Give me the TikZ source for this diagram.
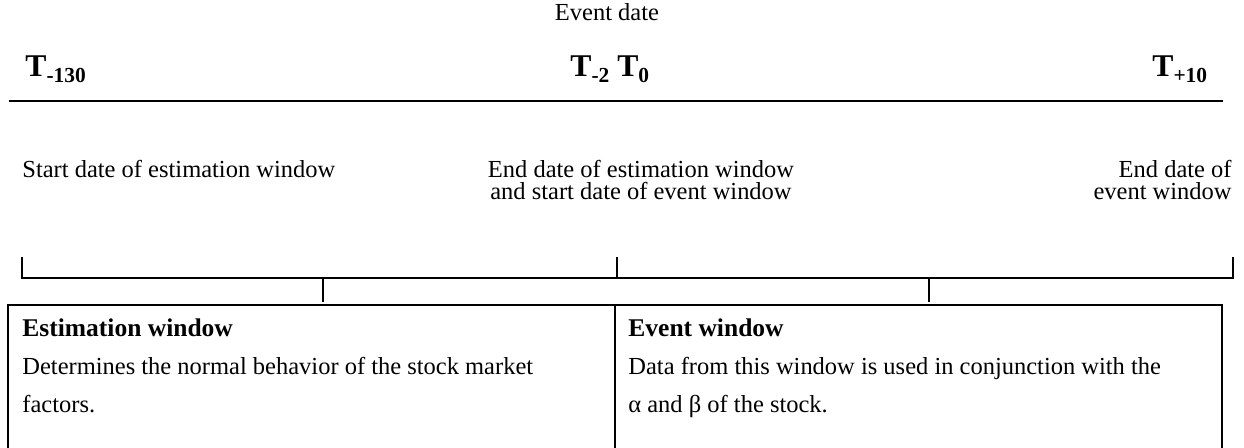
\documentclass[tikz,border=0pt]{standalone}
\usepackage{fontspec}
\setmainfont{Liberation Serif}
\newcommand{\tsub}[1]{\raisebox{-0.35ex}{\fontsize{10.5}{12}\selectfont #1}}
\tikzset{
  lbl/.style={inner sep=0pt,font=\fontsize{12}{14}\selectfont},
  ttl/.style={inner sep=0pt,font=\fontsize{12.5}{14}\selectfont\bfseries},
  tick/.style={inner sep=0pt,font=\fontsize{15.5}{18}\selectfont\bfseries},
}
\begin{document}
\begin{tikzpicture}[x=0.49pt,y=-0.49pt]
    \useasboundingbox (0,0) rectangle (1244,448);
    % time line
    \node[lbl,anchor=base] (evdate) at (607,21) {Event date};
    \node[tick,anchor=base west] (tstart) at (25,77) {T\tsub{-130}};
    \node[tick,anchor=base west] (tmid) at (570,77) {T\tsub{-2} T\tsub{0}};
    \node[tick,anchor=base west] (tend) at (1152,77) {T\tsub{+10}};
    \coordinate (la) at (9,101);
    \coordinate (lb) at (1223,101);
    \draw[line width=1pt] (la) -- (lb);
    % dates
    \node[lbl,anchor=base west] (sdate) at (22,178) {Start date of estimation window};
    \node[lbl,anchor=base] (edate) at (641,178) {End date of estimation window};
    \node[lbl,anchor=base] (edate2) at (641,200) {and start date of event window};
    \node[lbl,anchor=base east] (vdate) at (1232,178) {End date of};
    \node[lbl,anchor=base east] (vdate2) at (1232,200) {event window};
    % bracket
    \coordinate (ba) at (22,257);
    \coordinate (bb) at (617,257);
    \coordinate (bc) at (1233,257);
    \draw[line width=0.6pt] (ba) -- (ba |- 0,278) -- (bc |- 0,278) -- (bc);
    \draw[line width=0.6pt] (bb) -- (bb |- 0,278);
    \draw[line width=0.6pt] (323,278) -- (323,302);
    \draw[line width=0.6pt] (929,278) -- (929,302);
    % windows
    \draw[line width=1pt] (8,470) -- (8,305) -- (1222,305) -- (1222,470);
    \draw[line width=1pt] (615,305) -- (615,470);
    \node[ttl,anchor=base west] (estttl) at (22,337) {Estimation window};
    \node[lbl,anchor=base west] (esttxt) at (22,374) {Determines the normal behavior of the stock market};
    \node[lbl,anchor=base west] (esttxt2) at (22,412) {factors.};
    \node[ttl,anchor=base west] (evttl) at (628,337) {Event window};
    \node[lbl,anchor=base west] (evtxt) at (628,374) {Data from this window is used in conjunction with the};
    \node[lbl,anchor=base west] (evtxt2) at (628,412) {α and β of the stock.};
\end{tikzpicture}
\end{document}
